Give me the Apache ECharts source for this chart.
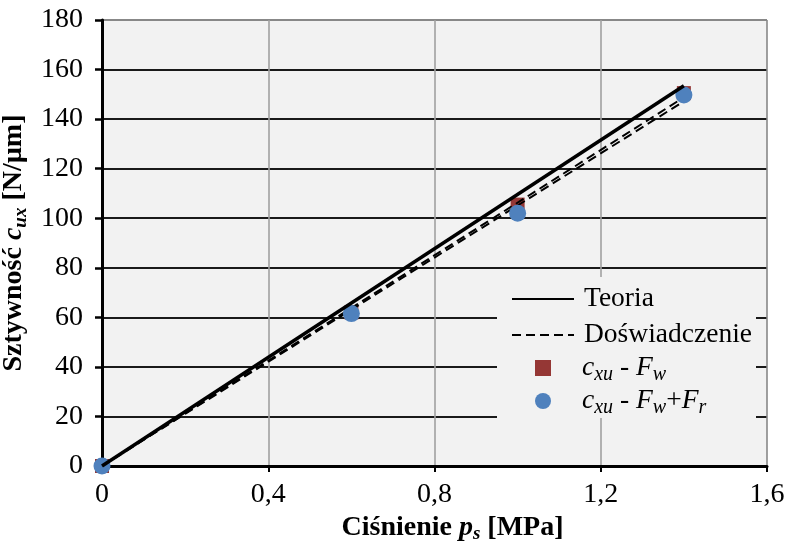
<!DOCTYPE html>
<html>
<head>
<meta charset="utf-8">
<script src="https://cdn.jsdelivr.net/npm/echarts@6/dist/echarts.min.js"></script>
<style>html,body{margin:0;padding:0;background:#fff}#c{width:789px;height:542px}</style>
</head>
<body>
<div id="c"></div>
<script>
// ---- data ----
const pressure = [0, 0.6, 1.0, 1.4];            // MPa
const stiffFw = [0, 62, 105.5, 150.5];          // c_xu - F_w
const stiffFwFr = [0, 61.5, 102, 149.7];        // c_xu - F_w + F_r
const theoryX = [0, 1.4];
const theoryY = [0, 153.5];
const expX = [0, 1.4];
const expFwY = [0, 148.8];
const expFwFrY = [0, 147.2];
const xTicks = ['0', '0,4', '0,8', '1,2', '1,6'];
const yTicks = [0, 20, 40, 60, 80, 100, 120, 140, 160, 180];

const FONT = "'Liberation Serif','Times New Roman',serif";
const pairs = (xs, ys) => xs.map((x, i) => [x, ys[i]]);

const chart = echarts.init(document.getElementById('c'), null, {renderer: 'canvas'});

const legendRich = {
  n: {fontFamily: FONT, fontSize: 27.5, lineHeight: 34, color: '#000'},
  i: {fontFamily: FONT, fontSize: 27.5, lineHeight: 34, fontStyle: 'italic', color: '#000'},
  s: {fontFamily: FONT, fontSize: 20, lineHeight: 20, fontStyle: 'italic', color: '#000', verticalAlign: 'bottom'}
};
const legendNames = {
  'Teoria': '{n|Teoria}',
  'Doświadczenie': '{n|Doświadczenie}',
  'cFw': '{i|c}{s|xu}{n| - }{i|F}{s|w}',
  'cFwFr': '{i|c}{s|xu}{n| - }{i|F}{s|w}{n|+}{i|F}{s|r}'
};

const titleRich = {
  b: {fontFamily: FONT, fontSize: 28, fontWeight: 'bold', color: '#000', lineHeight: 32},
  bi: {fontFamily: FONT, fontSize: 28, fontWeight: 'bold', fontStyle: 'italic', color: '#000', lineHeight: 32},
  bs: {fontFamily: FONT, fontSize: 19, fontWeight: 'bold', fontStyle: 'italic', color: '#000', lineHeight: 19, verticalAlign: 'bottom'}
};

const yColors = yTicks.map((v, i) => i === yTicks.length - 1 ? '#888' : '#1a1a1a');
const xColors = xTicks.map((v, i) => i === xTicks.length - 1 ? '#888' : '#a0a0a0');

chart.setOption({
  animation: false,
  backgroundColor: '#fff',
  textStyle: {fontFamily: FONT},
  grid: {left: 102, right: 22, top: 20, bottom: 76, show: true, backgroundColor: '#f2f2f2', borderWidth: 0,
         containLabel: false, outerBoundsMode: 'none'},
  graphic: [{
    type: 'rect', z: 1, silent: true,
    shape: {x: 497, y: 277, width: 259, height: 141},
    style: {fill: '#f2f2f2'}
  }],
  legend: [{
    orient: 'vertical', left: 511, top: 285, padding: 0, itemGap: 8,
    itemWidth: 62, itemHeight: 14, selectedMode: false,
    data: ['Teoria', 'Doświadczenie'],
    itemStyle: {opacity: 0},
    formatter: n => legendNames[n],
    textStyle: {rich: legendRich, padding: [0, 0, 0, 5]}
  }, {
    orient: 'vertical', left: 535, top: 354, padding: 0, itemGap: 2,
    itemWidth: 16, itemHeight: 16, selectedMode: false,
    data: [{name: 'cFw', icon: 'rect', itemStyle: {opacity: 1}}, {name: 'cFwFr', icon: 'circle', itemStyle: {opacity: 1}}],
    formatter: n => legendNames[n],
    textStyle: {rich: legendRich, padding: [0, 0, 0, 26]}
  }],
  xAxis: {
    type: 'value', min: 0, max: 1.6, interval: 0.4,
    axisLine: {show: true, onZero: false, lineStyle: {color: '#000', width: 3}},
    axisTick: {show: true, length: 6, lineStyle: {color: '#000', width: 2}},
    axisLabel: {
      color: '#000', fontFamily: FONT, fontSize: 28, margin: 15,
      formatter: v => xTicks[Math.round(v / 0.4)]
    },
    splitLine: {show: true, lineStyle: {color: xColors, width: 1.6}},
    name: '{b|Ciśnienie }{bi|p}{bs|s}{b| [MPa]}',
    nameLocation: 'middle', nameGap: 45,
    nameTextStyle: {padding: [0, 0, 0, 36], rich: titleRich}
  },
  yAxis: {
    type: 'value', min: 0, max: 180, interval: 20,
    axisLine: {show: true, lineStyle: {color: '#000', width: 3}},
    axisTick: {show: true, length: 7, lineStyle: {color: '#000', width: 2.5}},
    axisLabel: {color: '#000', fontFamily: FONT, fontSize: 28, margin: 19},
    splitLine: {show: true, lineStyle: {color: yColors, width: 1.8}},
    name: '{b|Sztywność }{bi|c}{bs|ux}{b| [N/µm]}',
    nameLocation: 'middle', nameGap: 70,
    nameTextStyle: {rich: titleRich}
  },
  series: [
    {
      name: 'cFw', type: 'scatter', data: pairs(pressure, stiffFw), clip: false,
      symbol: 'rect', symbolSize: 14, z: 2,
      itemStyle: {color: '#953735', opacity: 1}
    },
    {
      name: 'Doświadczenie', type: 'line', data: pairs(expX, expFwY), showSymbol: false, symbol: 'none', z: 3,
      lineStyle: {color: '#000', width: 2, type: [9, 5]}, itemStyle: {color: '#000'}
    },
    {
      name: 'Doświadczenie', type: 'line', data: pairs(expX, expFwFrY), showSymbol: false, symbol: 'none', z: 3,
      lineStyle: {color: '#000', width: 2, type: [9, 5]}, itemStyle: {color: '#000'}
    },
    {
      name: 'cFwFr', type: 'scatter', data: pairs(pressure, stiffFwFr), clip: false,
      symbol: 'circle', symbolSize: 17, z: 4,
      itemStyle: {color: '#4f81bd', opacity: 1}
    },
    {
      name: 'Teoria', type: 'line', data: pairs(theoryX, theoryY), showSymbol: false, symbol: 'none', z: 5,
      lineStyle: {color: '#000', width: 3.5}, itemStyle: {color: '#000'}
    }
  ]
});
</script>
</body>
</html>
